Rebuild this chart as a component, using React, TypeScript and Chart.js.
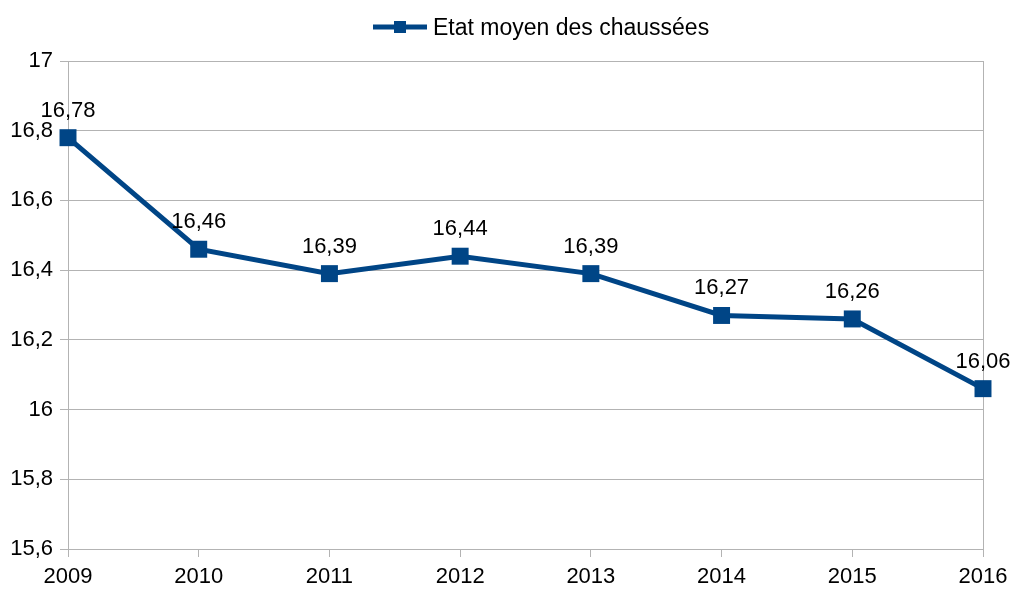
import React, { useEffect, useRef } from "react";
import { Chart, registerables } from "chart.js";

Chart.register(...registerables);

const years = ["2009", "2010", "2011", "2012", "2013", "2014", "2015", "2016"];
const etatMoyen = [16.78, 16.46, 16.39, 16.44, 16.39, 16.27, 16.26, 16.06];
const seriesName = "Etat moyen des chaussées";

const BLUE = "#004586";
const GRID = "#b3b3b3";
const FONT = "'Liberation Sans', Arial, sans-serif";

const fmt = (v: number) => String(Math.round(v * 100) / 100).replace(".", ",");

const overlayPlugin = {
  id: "overlay",
  afterDatasetsDraw(chart: any) {
    const ctx = chart.ctx;
    const meta = chart.getDatasetMeta(0);
    ctx.save();
    ctx.font = `22px ${FONT}`;
    ctx.fillStyle = "#000";
    ctx.textAlign = "center";
    ctx.textBaseline = "alphabetic";
    meta.data.forEach((pt: any, i: number) => {
      ctx.fillText(fmt(etatMoyen[i]), pt.x, pt.y - 21);
    });
    // legend
    const cx = 400;
    const cy = 27;
    ctx.strokeStyle = BLUE;
    ctx.lineWidth = 5;
    ctx.beginPath();
    ctx.moveTo(373, cy);
    ctx.lineTo(427, cy);
    ctx.stroke();
    ctx.fillStyle = BLUE;
    ctx.fillRect(cx - 6, cy - 6, 12, 12);
    ctx.fillStyle = "#000";
    ctx.textAlign = "left";
    ctx.font = `23px ${FONT}`;
    ctx.fillText(seriesName, 433, 35);
    ctx.restore();
  },
};

export default function App() {
  const ref = useRef<HTMLCanvasElement>(null);
  useEffect(() => {
    if (!ref.current) return;
    const chart = new Chart(ref.current, {
      type: "line",
      data: {
        labels: years,
        datasets: [
          {
            label: seriesName,
            data: etatMoyen,
            borderColor: BLUE,
            backgroundColor: BLUE,
            borderWidth: 5,
            pointStyle: "rect",
            pointRadius: 12,
            pointHoverRadius: 12,
            pointBorderWidth: 0,
            tension: 0,
          },
        ],
      },
      options: {
        animation: false,
        responsive: false,
        maintainAspectRatio: false,
        layout: { padding: { left: 0, right: 28, top: 61, bottom: 0 } },
        plugins: { legend: { display: false }, tooltip: { enabled: false } },
        scales: {
          x: {
            offset: false,
            grid: {
              color: (c: any) =>
                c.index === 0 || c.index === years.length - 1 ? GRID : "rgba(0,0,0,0)",
              tickColor: GRID,
              tickLength: 8,
              lineWidth: 1,
            },
            border: { color: GRID },
            ticks: {
              color: "#000",
              font: { family: FONT, size: 22 },
              padding: 7,
              maxRotation: 0,
            },
            afterFit: (s: any) => {
              s.height = 40;
              s.paddingLeft = 0;
              s.paddingRight = 0;
            },
          },
          y: {
            min: 15.6,
            max: 17,
            grid: { color: GRID, tickColor: GRID, tickLength: 8 },
            border: { color: GRID },
            ticks: {
              stepSize: 0.2,
              color: "#000",
              font: { family: FONT, size: 22 },
              padding: 7,
              callback: (v: any) => String(Math.round(Number(v) * 10) / 10).replace(".", ","),
            },
            afterFit: (s: any) => {
              s.width = 68;
              s.paddingTop = 0;
              s.paddingBottom = 0;
            },
          },
        },
      },
      plugins: [overlayPlugin],
    });
    return () => chart.destroy();
  }, []);
  return (
    <div style={{ position: "fixed", left: 0, top: 0, width: 1011, height: 589, background: "#fff" }}>
      <canvas ref={ref} width={1011} height={589} style={{ width: 1011, height: 589 }} />
    </div>
  );
}
